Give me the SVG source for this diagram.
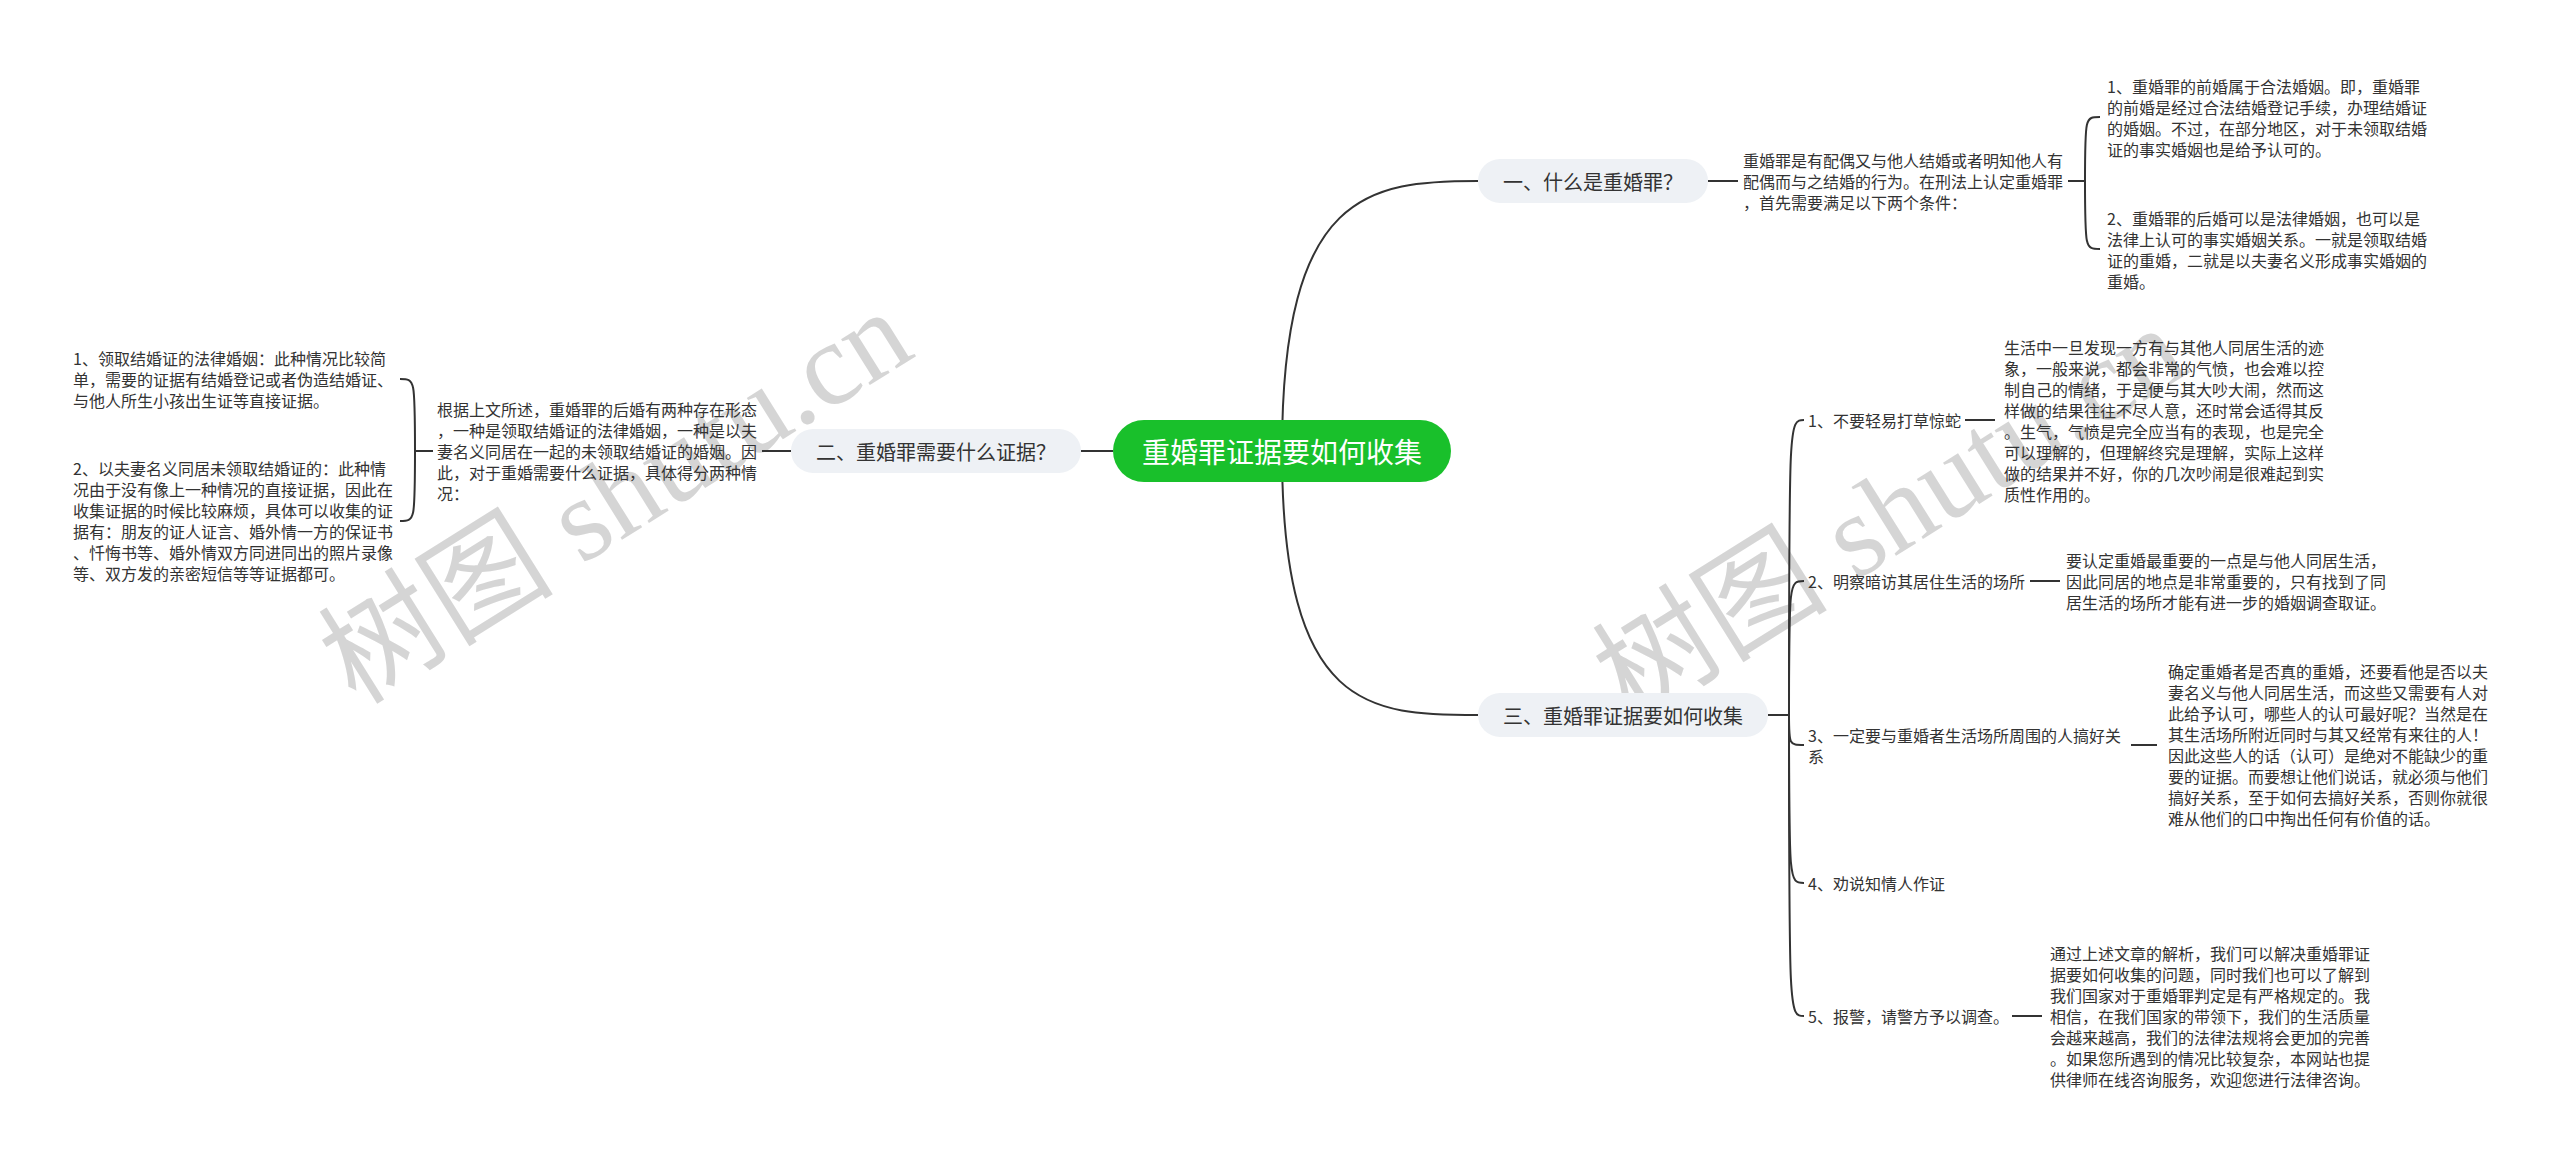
<svg xmlns="http://www.w3.org/2000/svg" width="2560" height="1163" viewBox="0 0 2560 1163">
<style>
text{font-family:"Noto Sans CJK SC","Noto Sans",sans-serif;dominant-baseline:central}
.s{font-size:16px;fill:#333}
.p{font-size:20px;fill:#333;text-anchor:middle}
.m{font-size:28px;fill:#fff;text-anchor:middle}
.pill{fill:#eef1f5}
.c{fill:none;stroke:#333;stroke-width:2}
.wm{font-family:"Liberation Serif","Noto Sans CJK SC",serif;font-size:118px;fill:#c8c8c8;opacity:0.75;dominant-baseline:auto}
</style>
<rect width="2560" height="1163" fill="#fff"/>
<g id="watermarks">
<text class="wm" transform="translate(356,706) rotate(-32)">树图 shutu.cn</text>
<text class="wm" transform="translate(1630,722) rotate(-32)">树图 shutu.cn</text>
</g>
<g id="connectors">
<path class="c" d="M1282,451 C1282,190 1370,181 1478,181"/>
<path class="c" d="M1282,451 C1282,712 1370,715 1478,715"/>
<path class="c" d="M1113,451 L1081,451"/>
<path class="c" d="M791,451 L762,451"/>
<path class="c" d="M433,451 L415,451"/>
<path class="c" d="M415,451 C415,379 415,379 400,379"/>
<path class="c" d="M415,451 C415,521 415,521 400,521"/>
<path class="c" d="M1708,181 L1738,181"/>
<path class="c" d="M2068,181 L2085,181"/>
<path class="c" d="M2085,181 C2085,117 2085,117 2100,117"/>
<path class="c" d="M2085,181 C2085,249 2085,249 2100,249"/>
<path class="c" d="M1768,715 L1789,715"/>
<path class="c" d="M1789,715 C1789,420 1789,420 1804,420"/>
<path class="c" d="M1789,715 C1789,581 1789,581 1804,581"/>
<path class="c" d="M1789,715 C1789,745 1789,745 1804,745"/>
<path class="c" d="M1789,715 C1789,883 1789,883 1804,883"/>
<path class="c" d="M1789,715 C1789,1016 1789,1016 1804,1016"/>
<path class="c" d="M1965,420 L1995,420"/>
<path class="c" d="M2030,581 L2060,581"/>
<path class="c" d="M2131,745 L2157,745"/>
<path class="c" d="M2012,1016 L2042,1016"/>
</g>
<g id="root">
<rect x="1113" y="420" width="338" height="62" rx="31" fill="#19c02b"/>
<text class="m" x="1282" y="451">重婚罪证据要如何收集</text>
</g>
<g id="n2">
<rect class="pill" x="791" y="429" width="290" height="44" rx="22"/>
<text class="p" x="936" y="451">二、重婚罪需要什么证据？</text>
</g>
<g id="n2-text">
<text class="s"><tspan x="437" y="409">根据上文所述，重婚罪的后婚有两种存在形态</tspan><tspan x="437" y="430">，一种是领取结婚证的法律婚姻，一种是以夫</tspan><tspan x="437" y="451">妻名义同居在一起的未领取结婚证的婚姻。因</tspan><tspan x="437" y="472">此，对于重婚需要什么证据，具体得分两种情</tspan><tspan x="437" y="493">况：</tspan></text>
</g>
<g id="n2-c1">
<text class="s"><tspan x="73" y="358">1、领取结婚证的法律婚姻：此种情况比较简</tspan><tspan x="73" y="379">单，需要的证据有结婚登记或者伪造结婚证、</tspan><tspan x="73" y="400">与他人所生小孩出生证等直接证据。</tspan></text>
</g>
<g id="n2-c2">
<text class="s"><tspan x="73" y="468">2、以夫妻名义同居未领取结婚证的：此种情</tspan><tspan x="73" y="489">况由于没有像上一种情况的直接证据，因此在</tspan><tspan x="73" y="510">收集证据的时候比较麻烦，具体可以收集的证</tspan><tspan x="73" y="531">据有：朋友的证人证言、婚外情一方的保证书</tspan><tspan x="73" y="552">、忏悔书等、婚外情双方同进同出的照片录像</tspan><tspan x="73" y="573">等、双方发的亲密短信等等证据都可。</tspan></text>
</g>
<g id="n1">
<rect class="pill" x="1478" y="159" width="230" height="44" rx="22"/>
<text class="p" x="1593" y="181">一、什么是重婚罪？</text>
</g>
<g id="n1-text">
<text class="s"><tspan x="1743" y="160">重婚罪是有配偶又与他人结婚或者明知他人有</tspan><tspan x="1743" y="181">配偶而与之结婚的行为。在刑法上认定重婚罪</tspan><tspan x="1743" y="202">，首先需要满足以下两个条件：</tspan></text>
</g>
<g id="n1-c1">
<text class="s"><tspan x="2107" y="85.5">1、重婚罪的前婚属于合法婚姻。即，重婚罪</tspan><tspan x="2107" y="106.5">的前婚是经过合法结婚登记手续，办理结婚证</tspan><tspan x="2107" y="127.5">的婚姻。不过，在部分地区，对于未领取结婚</tspan><tspan x="2107" y="148.5">证的事实婚姻也是给予认可的。</tspan></text>
</g>
<g id="n1-c2">
<text class="s"><tspan x="2107" y="217.5">2、重婚罪的后婚可以是法律婚姻，也可以是</tspan><tspan x="2107" y="238.5">法律上认可的事实婚姻关系。一就是领取结婚</tspan><tspan x="2107" y="259.5">证的重婚，二就是以夫妻名义形成事实婚姻的</tspan><tspan x="2107" y="280.5">重婚。</tspan></text>
</g>
<g id="n3">
<rect class="pill" x="1478" y="693" width="290" height="44" rx="22"/>
<text class="p" x="1623" y="715">三、重婚罪证据要如何收集</text>
</g>
<g id="n3-1">
<text class="s" x="1808" y="420">1、不要轻易打草惊蛇</text>
</g>
<g id="n3-1-text">
<text class="s"><tspan x="2004" y="346.5">生活中一旦发现一方有与其他人同居生活的迹</tspan><tspan x="2004" y="367.5">象，一般来说，都会非常的气愤，也会难以控</tspan><tspan x="2004" y="388.5">制自己的情绪，于是便与其大吵大闹，然而这</tspan><tspan x="2004" y="409.5">样做的结果往往不尽人意，还时常会适得其反</tspan><tspan x="2004" y="430.5">。生气，气愤是完全应当有的表现，也是完全</tspan><tspan x="2004" y="451.5">可以理解的，但理解终究是理解，实际上这样</tspan><tspan x="2004" y="472.5">做的结果并不好，你的几次吵闹是很难起到实</tspan><tspan x="2004" y="493.5">质性作用的。</tspan></text>
</g>
<g id="n3-2">
<text class="s" x="1808" y="581">2、明察暗访其居住生活的场所</text>
</g>
<g id="n3-2-text">
<text class="s"><tspan x="2066" y="560">要认定重婚最重要的一点是与他人同居生活，</tspan><tspan x="2066" y="581">因此同居的地点是非常重要的，只有找到了同</tspan><tspan x="2066" y="602">居生活的场所才能有进一步的婚姻调查取证。</tspan></text>
</g>
<g id="n3-3">
<text class="s"><tspan x="1808" y="734.5">3、一定要与重婚者生活场所周围的人搞好关</tspan><tspan x="1808" y="755.5">系</tspan></text>
</g>
<g id="n3-3-text">
<text class="s"><tspan x="2168" y="670.5">确定重婚者是否真的重婚，还要看他是否以夫</tspan><tspan x="2168" y="691.5">妻名义与他人同居生活，而这些又需要有人对</tspan><tspan x="2168" y="712.5">此给予认可，哪些人的认可最好呢？当然是在</tspan><tspan x="2168" y="733.5">其生活场所附近同时与其又经常有来往的人！</tspan><tspan x="2168" y="754.5">因此这些人的话（认可）是绝对不能缺少的重</tspan><tspan x="2168" y="775.5">要的证据。而要想让他们说话，就必须与他们</tspan><tspan x="2168" y="796.5">搞好关系，至于如何去搞好关系，否则你就很</tspan><tspan x="2168" y="817.5">难从他们的口中掏出任何有价值的话。</tspan></text>
</g>
<g id="n3-4">
<text class="s" x="1808" y="883">4、劝说知情人作证</text>
</g>
<g id="n3-5">
<text class="s" x="1808" y="1016">5、报警，请警方予以调查。</text>
</g>
<g id="n3-5-text">
<text class="s"><tspan x="2050" y="953">通过上述文章的解析，我们可以解决重婚罪证</tspan><tspan x="2050" y="974">据要如何收集的问题，同时我们也可以了解到</tspan><tspan x="2050" y="995">我们国家对于重婚罪判定是有严格规定的。我</tspan><tspan x="2050" y="1016">相信，在我们国家的带领下，我们的生活质量</tspan><tspan x="2050" y="1037">会越来越高，我们的法律法规将会更加的完善</tspan><tspan x="2050" y="1058">。如果您所遇到的情况比较复杂，本网站也提</tspan><tspan x="2050" y="1079">供律师在线咨询服务，欢迎您进行法律咨询。</tspan></text>
</g>
</svg>
